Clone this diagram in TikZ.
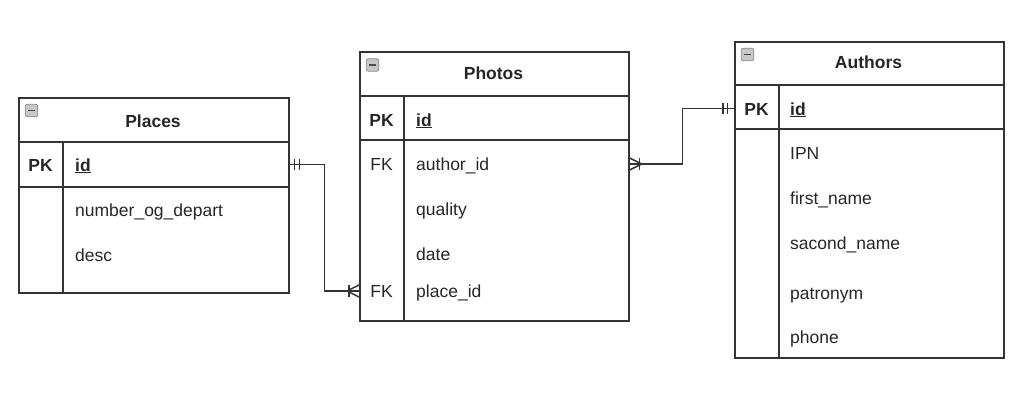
\documentclass[tikz,border=0pt]{standalone}
\usepackage{fontspec}
\setmainfont{Liberation Sans}
\usetikzlibrary{positioning, calc}

\tikzset{
  entity/.style={draw=black!80, line width=1.6pt, rectangle, inner sep=0pt, anchor=north west},
  sep/.style={draw=black!80, line width=1.6pt},
  rel/.style={draw=black!80, line width=1.5pt},
  field/.style={anchor=west, inner sep=0pt, text height=13pt, text depth=0pt, text=black!85,
    font=\fontsize{17.5}{20}\selectfont},
  key/.style={field, anchor=center},
  keybold/.style={key, font=\fontsize{17.5}{20}\selectfont\bfseries},
  collapse/.style={rectangle, rounded corners=2pt, minimum size=12.5pt, inner sep=0pt,
    fill=black!22, draw=black!45, line width=0.8pt,
    path picture={\draw[black!70, line width=1.6pt]
      ($(path picture bounding box.west)+(3,0)$) -- ($(path picture bounding box.east)+(-3,0)$);}}
}

\begin{document}
\begin{tikzpicture}[x=1pt, y=-1pt]
  \useasboundingbox (0,0) rectangle (1033,404);

  % Places
  \node[entity, minimum width=270pt, minimum height=195pt] (places) at (18,97) {};
  \draw[sep] (18,142) -- (288,142);
  \draw[sep] (18,187) -- (288,187);
  \draw[sep] (63,142) -- (63,292);
  \node[collapse] (pl-min) at (31.5,110.5) {};
  \node[keybold] (pl-title) at (153,120.5) {Places};
  \node[keybold] (pl-pk) at (40.5,164.5) {PK};
  \node[field, font=\fontsize{17.5}{20}\selectfont\bfseries] (pl-id) at (75,164.5) {\underline{id}};
  \node[field] (pl-num) at (75,209.5) {number\_og\_depart};
  \node[field] (pl-desc) at (75,255) {desc};

  % Photos
  \node[entity, minimum width=269pt, minimum height=269pt] (photos) at (359,51) {};
  \draw[sep] (359,96) -- (628,96);
  \draw[sep] (359,140) -- (628,140);
  \draw[sep] (404,96) -- (404,320);
  \node[collapse] (ph-min) at (372.5,65) {};
  \node[keybold] (ph-title) at (493.5,73.5) {Photos};
  \node[keybold] (ph-pk) at (381.5,119.5) {PK};
  \node[field, font=\fontsize{17.5}{20}\selectfont\bfseries] (ph-id) at (416,119.5) {\underline{id}};
  \node[key] (ph-fk1) at (381.5,164) {FK};
  \node[field] (ph-author) at (416,164) {author\_id};
  \node[field] (ph-quality) at (416,209) {quality};
  \node[field] (ph-date) at (416,253.5) {date};
  \node[key] (ph-fk2) at (381.5,291) {FK};
  \node[field] (ph-place) at (416,291) {place\_id};

  % Authors
  \node[entity, minimum width=269pt, minimum height=316pt] (authors) at (734,41) {};
  \draw[sep] (734,85) -- (1003,85);
  \draw[sep] (734,129) -- (1003,129);
  \draw[sep] (779,85) -- (779,357);
  \node[collapse] (au-min) at (747.5,54.5) {};
  \node[keybold] (au-title) at (868.5,62.5) {Authors};
  \node[keybold] (au-pk) at (756.5,108.5) {PK};
  \node[field, font=\fontsize{17.5}{20}\selectfont\bfseries] (au-id) at (790,108.5) {\underline{id}};
  \node[field] (au-ipn) at (790,152.5) {IPN};
  \node[field] (au-first) at (790,198) {first\_name};
  \node[field] (au-second) at (790,242.5) {sacond\_name};
  \node[field] (au-patr) at (790,292.5) {patronym};
  \node[field] (au-phone) at (790,336.5) {phone};

  % relations
  \coordinate (c1) at (places.east |- pl-id);
  \coordinate (c2) at (photos.west |- ph-place);
  \coordinate (c3) at (photos.east |- ph-author);
  \coordinate (c4) at (authors.west |- au-id);

  \draw[rel] (c1) -- ++(35,0) |- (c2);
  \draw[rel] ($(c1)+(5,-5.5)$) -- ++(0,11);
  \draw[rel] ($(c1)+(10,-5.5)$) -- ++(0,11);
  \draw[rel] ($(c2)+(-10,-6)$) -- ++(0,12);
  \draw[rel] ($(c2)+(0,-6)$) -- ($(c2)+(-12,0)$) -- ($(c2)+(0,6)$);

  \draw[rel] (c3) -- ++(53,0) |- (c4);
  \draw[rel] ($(c3)+(10,-6)$) -- ++(0,12);
  \draw[rel] ($(c3)+(0,-6)$) -- ($(c3)+(12,0)$) -- ($(c3)+(0,6)$);
  \draw[rel] ($(c4)+(-11,-5.5)$) -- ++(0,11);
  \draw[rel] ($(c4)+(-6.5,-5.5)$) -- ++(0,11);
\end{tikzpicture}
\end{document}
